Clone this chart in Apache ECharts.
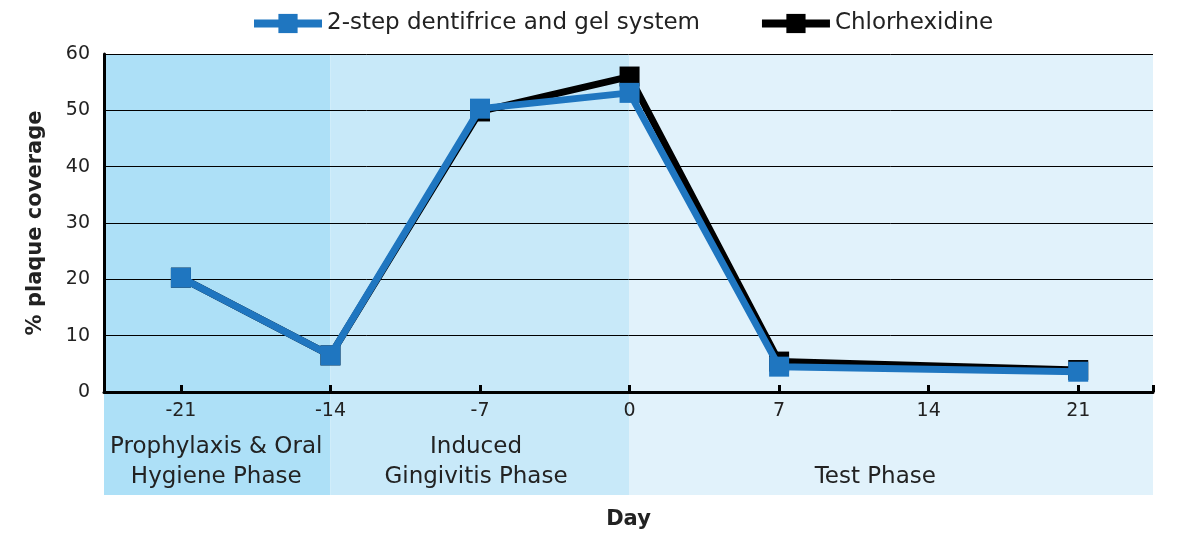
<!DOCTYPE html>
<html>
<head>
<meta charset="utf-8">
<script src="https://cdn.jsdelivr.net/npm/echarts@6/dist/echarts.min.js"></script>
<style>html,body{margin:0;padding:0;background:#fff;}#c{width:1194px;height:544px;}</style>
</head>
<body>
<div id="c"></div>
<script>
var days = [-21, -14, -7, 0, 7, 21];
var gelSystem = [20.3, 6.5, 50.3, 53.1, 4.5, 3.6];
var chlorhexidine = [20.3, 6.5, 49.8, 56.0, 5.4, 3.9];
var xTickValues = [-21, -14, -7, 0, 7, 14, 21, 24.5];
var xLabelValues = [-21, -14, -7, 0, 7, 14, 21];
var phaseNames = ['Prophylaxis & Oral\nHygiene Phase', 'Induced\nGingivitis Phase', 'Test Phase'];
var phaseStart = [-24.6, -14, 0];
var phaseEnd = [-14, 0, 24.5];
var phaseColors = ['#ade0f7', '#c8e9f9', '#e1f2fb'];
var seriesNames = ['2-step dentifrice and gel system', 'Chlorhexidine'];

var FONT = 'DejaVu Sans';
function pairs(xs, ys) { return xs.map(function (x, i) { return [x, ys[i]]; }); }
function bands(withLabel, y0, y1) {
  return phaseNames.map(function (n, i) {
    return [{
      name: withLabel ? n : '',
      xAxis: phaseStart[i], yAxis: y0,
      itemStyle: { color: phaseColors[i] },
      label: withLabel ? {
        show: true, position: 'insideBottom', distance: 3,
        color: '#222', fontSize: 23, lineHeight: 30, fontFamily: FONT,
        offset: i === 2 ? [-16, 0] : (i === 1 ? [-4, 0] : [-1, 0])
      } : { show: false }
    }, { xAxis: phaseEnd[i], yAxis: y1 }];
  });
}

var chart = echarts.init(document.getElementById('c'));
chart.setOption({
  animation: false,
  textStyle: { fontFamily: FONT },
  legend: {
    top: 7, left: 245, itemWidth: 68, itemHeight: 24, itemGap: 58,
    data: seriesNames,
    lineStyle: { width: 8 },
    textStyle: { fontSize: 23, color: '#222', fontFamily: FONT }
  },
  grid: [
    { left: 104, right: 41, top: 54, height: 338 },
    { left: 104, right: 41, top: 392, height: 103 }
  ],
  xAxis: [
    {
      gridIndex: 0, type: 'value', min: -24.6, max: 24.5, z: 3,
      axisLine: { show: true, onZero: false, lineStyle: { color: '#000', width: 3 } },
      axisTick: { show: true, inside: true, length: 7, customValues: xTickValues, lineStyle: { color: '#000', width: 3 } },
      axisLabel: { customValues: xLabelValues, color: '#222', fontSize: 19, margin: 10, fontFamily: FONT },
      splitLine: { show: false }
    },
    {
      gridIndex: 1, type: 'value', min: -24.6, max: 24.5,
      axisLine: { show: false }, axisTick: { show: false }, axisLabel: { show: false }, splitLine: { show: false },
      name: 'Day', nameLocation: 'middle', nameGap: 14,
      nameTextStyle: { fontSize: 21, fontWeight: 'bold', color: '#222', fontFamily: FONT }
    }
  ],
  yAxis: [
    {
      gridIndex: 0, type: 'value', min: 0, max: 60, interval: 10, z: 2,
      axisLine: { show: true, onZero: false, lineStyle: { color: '#000', width: 3 } },
      axisTick: { show: false },
      axisLabel: { color: '#222', fontSize: 19, margin: 14, fontFamily: FONT },
      splitLine: { show: true, lineStyle: { color: '#000', width: 1 } },
      name: '% plaque coverage', nameLocation: 'middle', nameGap: 58,
      nameTextStyle: { fontSize: 21, fontWeight: 'bold', color: '#222', fontFamily: FONT }
    },
    {
      gridIndex: 1, type: 'value', min: 0, max: 1, show: false
    }
  ],
  series: [
    {
      type: 'line', name: 'bands', xAxisIndex: 0, yAxisIndex: 0, z: 1, data: [], silent: true,
      markArea: { silent: true, data: bands(false, 0, 60) }
    },
    {
      type: 'line', name: 'phases', xAxisIndex: 1, yAxisIndex: 1, z: 1, data: [], silent: true,
      markArea: { silent: true, data: bands(true, 0, 1) }
    },
    {
      type: 'line', name: seriesNames[1], xAxisIndex: 0, yAxisIndex: 0, z: 4,
      data: pairs(days, chlorhexidine),
      symbol: 'rect', symbolSize: 20,
      lineStyle: { color: '#000', width: 7 },
      itemStyle: { color: '#000' }
    },
    {
      type: 'line', name: seriesNames[0], xAxisIndex: 0, yAxisIndex: 0, z: 5,
      data: pairs(days, gelSystem),
      symbol: 'rect', symbolSize: 20,
      lineStyle: { color: '#1f76c0', width: 7 },
      itemStyle: { color: '#1f76c0' }
    }
  ]
});
</script>
</body>
</html>
